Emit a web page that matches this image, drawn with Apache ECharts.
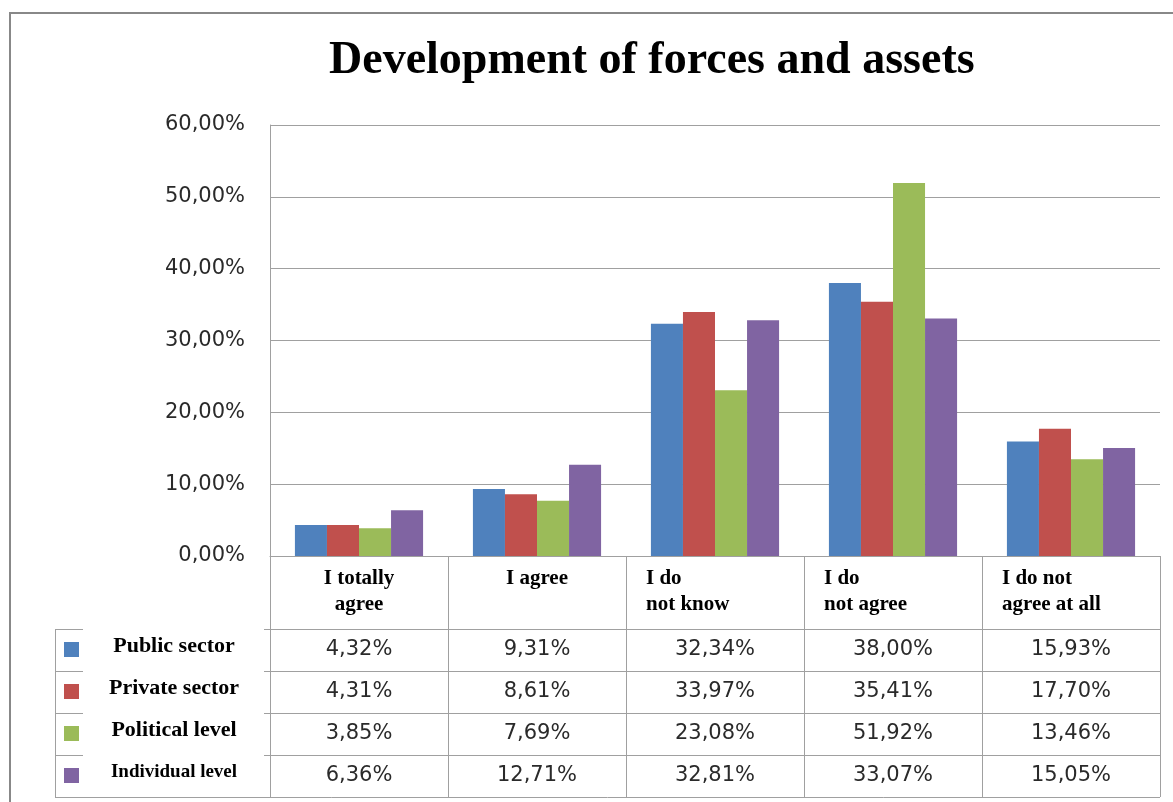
<!DOCTYPE html>
<html><head><meta charset="utf-8">
<script src="https://cdn.jsdelivr.net/npm/echarts@6/dist/echarts.min.js"></script>
<style>html,body{margin:0;padding:0;background:#fff}#c{width:1173px;height:802px}</style>
</head><body><div id="c"></div>
<script>
// ---- data ----
const titleText = 'Development of forces and assets';
const categories = ['I totally\nagree', 'I agree', 'I do\nnot know', 'I do\nnot agree', 'I do not\nagree at all'];
const seriesNames = ['Public sector', 'Private sector', 'Political level', 'Individual level'];
const publicSector = [4.32, 9.31, 32.34, 38.00, 15.93];
const privateSector = [4.31, 8.61, 33.97, 35.41, 17.70];
const politicalLevel = [3.85, 7.69, 23.08, 51.92, 13.46];
const individualLevel = [6.36, 12.71, 32.81, 33.07, 15.05];
const yMin = 0, yMax = 60, yStep = 10;

// ---- styles ----
const colors = ['#4F81BD', '#C0504D', '#9BBB59', '#8064A2'];
const headerAlign = ['center', 'center', 'left', 'left', 'left'];
const legendFontSizes = [22, 22, 22, 19];
const allSeries = [publicSector, privateSector, politicalLevel, individualLevel];
const fmt = v => v.toFixed(2).replace('.', ',') + '%';

const chart = echarts.init(document.getElementById('c'), null, {renderer: 'canvas'});
const option = {
  animation: false,
  backgroundColor: '#fff',
  title: {
    text: titleText, left: 324, top: 33,
    textStyle: {fontFamily: 'Liberation Serif', fontWeight: 'bold', fontSize: 46, color: '#000'}
  },
  grid: {left: 270, top: 125, right: 13, bottom: 246, containLabel: false},
  xAxis: {
    type: 'category', data: categories,
    axisLine: {show: true, lineStyle: {color: '#a0a0a0', width: 1}},
    axisTick: {show: false}, axisLabel: {show: false}, splitLine: {show: false}
  },
  yAxis: {
    type: 'value', min: yMin, max: yMax, interval: yStep,
    axisLine: {show: true, lineStyle: {color: '#a0a0a0', width: 1}},
    axisTick: {show: false},
    splitLine: {show: true, lineStyle: {color: '#a0a0a0', width: 1}},
    axisLabel: {margin: 25, color: '#2a2a2a', fontFamily: 'DejaVu Sans', fontSize: 21, formatter: v => fmt(v)}
  },
  series: seriesNames.map((n, i) => ({
    name: n, type: 'bar', data: allSeries[i],
    barGap: '0%', barCategoryGap: '28%',
    itemStyle: {color: colors[i]}
  }))
};
chart.setOption(option);

// ---- data table drawn from the axis scale ----
const c0 = chart.convertToPixel({xAxisIndex: 0}, 0);
const c1 = chart.convertToPixel({xAxisIndex: 0}, 1);
const band = c1 - c0;
const xLeft = c0 - band / 2;
const xRight = xLeft + band * categories.length;
const yBase = chart.convertToPixel({yAxisIndex: 0}, 0);
const headerH = 73, rowH = 42;
const rowTops = seriesNames.map((_, r) => yBase + headerH + r * rowH);
const yBottom = yBase + headerH + seriesNames.length * rowH;
const tableLeft = 55, keyGapL = 83, keyGapR = 264;
const lineStyle = {stroke: '#a0a0a0', lineWidth: 1};
const els = [];
els.push({type: 'rect', silent: true, shape: {x: 10, y: 13, width: 1400, height: 1000},
  style: {fill: 'none', stroke: '#888', lineWidth: 2}});
for (let i = 0; i <= categories.length; i++) {
  const x = Math.round(xLeft + i * band) + 0.5;
  els.push({type: 'line', silent: true, shape: {x1: x, y1: yBase, x2: x, y2: yBottom}, style: lineStyle});
}
rowTops.forEach(y => {
  const yy = Math.round(y) + 0.5;
  els.push({type: 'line', silent: true, shape: {x1: tableLeft, y1: yy, x2: keyGapL, y2: yy}, style: lineStyle});
  els.push({type: 'line', silent: true, shape: {x1: keyGapR, y1: yy, x2: xRight, y2: yy}, style: lineStyle});
});
const yb = Math.round(yBottom) + 0.5;
els.push({type: 'line', silent: true, shape: {x1: tableLeft, y1: yb, x2: xRight, y2: yb}, style: lineStyle});
els.push({type: 'line', silent: true, shape: {x1: tableLeft + 0.5, y1: rowTops[0], x2: tableLeft + 0.5, y2: yBottom}, style: lineStyle});

// header labels
categories.forEach((cat, i) => {
  const left = xLeft + i * band;
  const al = headerAlign[i];
  els.push({type: 'text', silent: true, style: {
    text: cat, x: al === 'center' ? left + band / 2 : left + 20, y: yBase + 10,
    align: al, verticalAlign: 'top', lineHeight: 26,
    font: 'bold 21px "Liberation Serif"', fill: '#000'
  }});
});
// legend keys, names, values
seriesNames.forEach((name, r) => {
  const cy = rowTops[r] + rowH / 2;
  els.push({type: 'rect', silent: true, shape: {x: 64, y: cy - 8, width: 15, height: 15}, style: {fill: colors[r]}});
  els.push({type: 'text', silent: true, style: {
    text: name, x: 174, y: cy - 4, align: 'center', verticalAlign: 'middle',
    font: 'bold ' + legendFontSizes[r] + 'px "Liberation Serif"', fill: '#000'
  }});
  allSeries[r].forEach((v, i) => {
    els.push({type: 'text', silent: true, style: {
      text: fmt(v), x: xLeft + i * band + band / 2, y: cy, align: 'center', verticalAlign: 'middle',
      font: '21px "DejaVu Sans"', fill: '#2a2a2a'
    }});
  });
});
chart.setOption({graphic: {elements: els}});
</script></body></html>
